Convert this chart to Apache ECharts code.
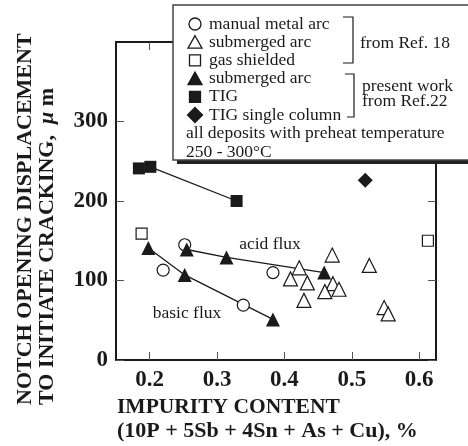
<!DOCTYPE html>
<html><head><meta charset="utf-8">
<script src="https://cdn.jsdelivr.net/npm/echarts@6/dist/echarts.min.js"></script>
<style>html,body{margin:0;padding:0;background:#fff}#c{width:468px;height:446px}</style>
</head><body><div id="c"></div>
<script>
// ---- data ----
var xTicks = [0.2, 0.3, 0.4, 0.5, 0.6];
var yTicks = [0, 100, 200, 300];
var manualMetalArc = [[0.252,145],[0.220,113],[0.339,69],[0.383,110]];
var submergedArcRef18 = [[0.471,132],[0.422,116],[0.409,102],[0.434,97],[0.429,75],[0.472,96],[0.460,86],[0.481,89],[0.526,119],[0.548,66],[0.554,58]];
var gasShielded = [[0.188,159],[0.613,150]];
var submergedBasic = [[0.198,141],[0.252,107],[0.383,51]];
var submergedAcid = [[0.255,139],[0.314,129],[0.459,110]];
var tig = [[0.184,241],[0.201,243],[0.329,200]];
var tigLine = [[0.201,243],[0.329,200]];
var tigSingle = [[0.520,226]];

var serif = '"Liberation Serif","DejaVu Serif",serif';
var ink = '#1a1a1a';

function scatter(name, data, symbol, size, filled) {
  return {
    type: 'scatter', name: name, data: data, symbol: symbol, symbolSize: size, z: 5,
    itemStyle: { color: filled ? ink : '#fff', borderColor: ink, borderWidth: filled ? 0 : 1.2, opacity: 1 }
  };
}
function trend(data) {
  return { type: 'line', data: data, symbol: 'none', z: 3, lineStyle: { color: ink, width: 1.3 } };
}

var axisLine = { show: true, onZero: false, lineStyle: { color: ink, width: 2 } };

var legendRows = [
  ['circle', false, 'manual metal arc'],
  ['triangle', false, 'submerged arc'],
  ['square', false, 'gas shielded'],
  ['triangle', true, 'submerged arc'],
  ['square', true, 'TIG'],
  ['diamond', true, 'TIG single column']
];
var rowY0 = 24, rowDy = 18.2, symX = 195;
var lf = '17.5px ' + serif;
var graphics = [
  { type: 'rect', shape: { x: 177, y: 9, width: 300, height: 155 }, style: { fill: '#222' }, z: 100 },
  { type: 'rect', shape: { x: 173, y: 5, width: 300, height: 155 }, style: { fill: '#fff', stroke: '#444', lineWidth: 1.5 }, z: 101 }
];
legendRows.forEach(function (r, i) {
  var cy = rowY0 + i * rowDy;
  var st = { fill: r[1] ? ink : '#fff', stroke: ink, lineWidth: 1.3 };
  var el;
  if (r[0] === 'circle') el = { type: 'circle', shape: { cx: symX, cy: cy, r: 6 }, style: st };
  else if (r[0] === 'square') el = { type: 'rect', shape: { x: symX - 5.5, y: cy - 5.5, width: 11, height: 11 }, style: st };
  else if (r[0] === 'triangle') el = { type: 'polygon', shape: { points: [[symX, cy - 6.5], [symX + 7, cy + 6], [symX - 7, cy + 6]] }, style: st };
  else el = { type: 'polygon', shape: { points: [[symX, cy - 7.5], [symX + 7.5, cy], [symX, cy + 7.5], [symX - 7.5, cy]] }, style: st };
  el.z = 102;
  graphics.push(el);
  graphics.push({ type: 'text', x: 209, y: cy, z: 102, style: { text: r[2], font: lf, fill: ink, textVerticalAlign: 'middle' } });
});
graphics.push({ type: 'text', x: 186, y: rowY0 + 6 * rowDy, z: 102, style: { text: 'all deposits with preheat temperature', font: lf, fill: ink, textVerticalAlign: 'middle' } });
graphics.push({ type: 'text', x: 186, y: rowY0 + 7 * rowDy + 1, z: 102, style: { text: '250 - 300°C', font: lf, fill: ink, textVerticalAlign: 'middle' } });
// brackets
graphics.push({ type: 'polyline', z: 102, shape: { points: [[343, 17], [353, 17], [353, 63], [343, 63]] }, style: { stroke: ink, lineWidth: 1.2, fill: null } });
graphics.push({ type: 'text', x: 360, y: 43, z: 102, style: { text: 'from Ref. 18', font: lf, fill: ink, textVerticalAlign: 'middle' } });
graphics.push({ type: 'polyline', z: 102, shape: { points: [[345, 74], [354, 74], [354, 117], [347, 117]] }, style: { stroke: ink, lineWidth: 1.2, fill: null } });
graphics.push({ type: 'text', x: 362, y: 86, z: 102, style: { text: 'present work', font: lf, fill: ink, textVerticalAlign: 'middle' } });
graphics.push({ type: 'text', x: 362, y: 101, z: 102, style: { text: 'from Ref.22', font: lf, fill: ink, textVerticalAlign: 'middle' } });
// annotations
graphics.push({ type: 'text', x: 270, y: 244, z: 6, style: { text: 'acid flux', font: lf, fill: ink, textAlign: 'center', textVerticalAlign: 'middle' } });
graphics.push({ type: 'text', x: 187, y: 313, z: 6, style: { text: 'basic flux', font: lf, fill: ink, textAlign: 'center', textVerticalAlign: 'middle' } });
// axis titles
graphics.push({ type: 'text', x: 117, y: 407, style: { text: 'IMPURITY CONTENT', font: 'bold 21.5px ' + serif, fill: ink, textVerticalAlign: 'middle' } });
graphics.push({ type: 'text', x: 117, y: 431, style: { text: '(10P + 5Sb + 4Sn + As + Cu), %', font: 'bold 22px ' + serif, fill: ink, textVerticalAlign: 'middle' } });
graphics.push({ type: 'text', x: 25, y: 405, rotation: Math.PI / 2, style: { text: 'NOTCH OPENING DISPLACEMENT', font: 'bold 22px ' + serif, fill: ink, textVerticalAlign: 'middle' } });
graphics.push({ type: 'text', x: 47, y: 405, rotation: Math.PI / 2, style: { rich: { b: { font: 'bold 22px ' + serif, fill: ink }, i: { font: 'italic bold 22px ' + serif, fill: ink } }, text: '{b|TO INITIATE CRACKING,  }{i|μ}{b| m}', textVerticalAlign: 'middle' } });

var chart = echarts.init(document.getElementById('c'), null, { renderer: 'canvas' });
chart.setOption({
  animation: false,
  backgroundColor: '#fff',
  grid: { left: 116, right: 32, top: 42, bottom: 86 },
  xAxis: [
    { type: 'value', position: 'bottom', min: 0.15, max: 0.625, axisLine: axisLine,
      axisTick: { show: true, inside: true, length: 8, customValues: xTicks, lineStyle: { color: '#555', width: 1 } },
      axisLabel: { customValues: xTicks, formatter: function (v) { return v.toFixed(1); }, margin: 9, fontFamily: serif, fontWeight: 'bold', fontSize: 23, color: ink },
      splitLine: { show: false } },
    { type: 'value', position: 'top', min: 0.15, max: 0.625, axisLine: axisLine,
      axisTick: { show: true, inside: true, length: 8, customValues: xTicks, lineStyle: { color: '#555', width: 1 } },
      axisLabel: { show: false }, splitLine: { show: false } }
  ],
  yAxis: [
    { type: 'value', position: 'left', min: 0, max: 400, interval: 100, axisLine: axisLine,
      axisTick: { show: true, inside: true, length: 8, customValues: yTicks, lineStyle: { color: '#555', width: 1 } },
      axisLabel: { customValues: yTicks, margin: 8, fontFamily: serif, fontWeight: 'bold', fontSize: 23, color: ink },
      splitLine: { show: false } },
    { type: 'value', position: 'right', min: 0, max: 400, interval: 100, axisLine: axisLine,
      axisTick: { show: true, inside: true, length: 8, customValues: yTicks, lineStyle: { color: '#555', width: 1 } },
      axisLabel: { show: false }, splitLine: { show: false } }
  ],
  series: [
    trend(tigLine), trend(submergedBasic), trend(submergedAcid),
    scatter('manual metal arc', manualMetalArc, 'circle', 12, false),
    scatter('submerged arc (Ref. 18)', submergedArcRef18, 'triangle', 14, false),
    scatter('gas shielded', gasShielded, 'rect', 11, false),
    scatter('submerged arc basic', submergedBasic, 'triangle', 14, true),
    scatter('submerged arc acid', submergedAcid, 'triangle', 14, true),
    scatter('TIG', tig, 'rect', 12, true),
    scatter('TIG single column', tigSingle, 'diamond', 15, true)
  ],
  graphic: { elements: graphics }
});
</script></body></html>
